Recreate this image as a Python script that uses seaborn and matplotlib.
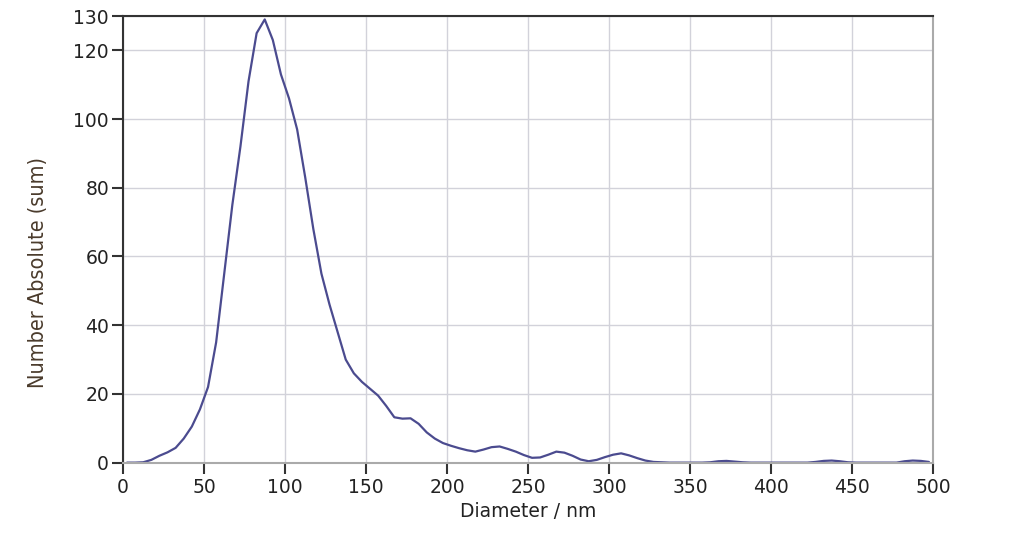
import numpy as np
import pandas as pd
import matplotlib
matplotlib.use("Agg")
import matplotlib.pyplot as plt
import seaborn as sns

# size distribution (bins of 5 nm)
diameter = np.arange(2.5, 500, 5.0)
counts = [
    0, 0, 0.1, 0.8, 2.0, 3.0, 4.3, 7.0, 10.5, 15.5,
    22, 35, 55, 75, 92, 111, 125, 129, 123, 113,
    106, 97, 83, 68, 55, 46, 38, 30, 26, 23.5,
    21.5, 19.5, 16.5, 13.2, 12.8, 12.9, 11.3, 8.8, 7.0, 5.7,
    4.9, 4.2, 3.6, 3.2, 3.8, 4.5, 4.7, 4.0, 3.2, 2.2,
    1.4, 1.5, 2.3, 3.2, 2.9, 2.0, 0.9, 0.4, 0.8, 1.6,
    2.3, 2.7, 2.1, 1.3, 0.6, 0.2, 0.1, 0, 0, 0,
    0, 0, 0.1, 0.4, 0.5, 0.3, 0.1, 0, 0, 0,
    0, 0, 0, 0, 0, 0.2, 0.5, 0.6, 0.4, 0.1,
    0, 0, 0, 0, 0, 0, 0.4, 0.6, 0.5, 0.2,
]
df = pd.DataFrame({"diameter": diameter, "count": counts})

x_ticks = list(range(0, 501, 50))
y_ticks = [0, 20, 40, 60, 80, 100, 120, 130]

sns.set_style("whitegrid")
plt.rcParams["font.family"] = ["DejaVu Sans"]

fig = plt.figure(figsize=(10.24, 5.37), dpi=100)
ax = fig.add_axes([0.1201, 0.1385, 0.7910, 0.8317])

sns.lineplot(data=df, x="diameter", y="count", color="#4b4b8f", linewidth=1.6, ax=ax)

ax.set_xlim(0, 500)
ax.set_ylim(0, 130)
ax.set_xticks(x_ticks)
ax.set_yticks(y_ticks)
ax.tick_params(axis="both", bottom=True, left=True, labelsize=13.5, length=8,
               width=1.5, color="#333333", direction="out", pad=2,
               labelcolor="#222222")
ax.tick_params(axis="x", pad=3)

ax.grid(True, color="#d2d2da", linewidth=1)
for sp in ["left", "top"]:
    ax.spines[sp].set_color("#333333")
    ax.spines[sp].set_linewidth(1.5)
for sp in ["right", "bottom"]:
    ax.spines[sp].set_color("#aaaaaa")
    ax.spines[sp].set_linewidth(1.5)

ax.set_xlabel("Diameter / nm", fontsize=13.5, color="#222222", labelpad=4)
ax.set_ylabel("Number Absolute (sum)", fontsize=15.5, color="#4a3b2c",
              family="DejaVu Sans", fontstretch="condensed")
ax.yaxis.set_label_coords(-0.092, 0.425)

fig.savefig("out.png", dpi=100)
